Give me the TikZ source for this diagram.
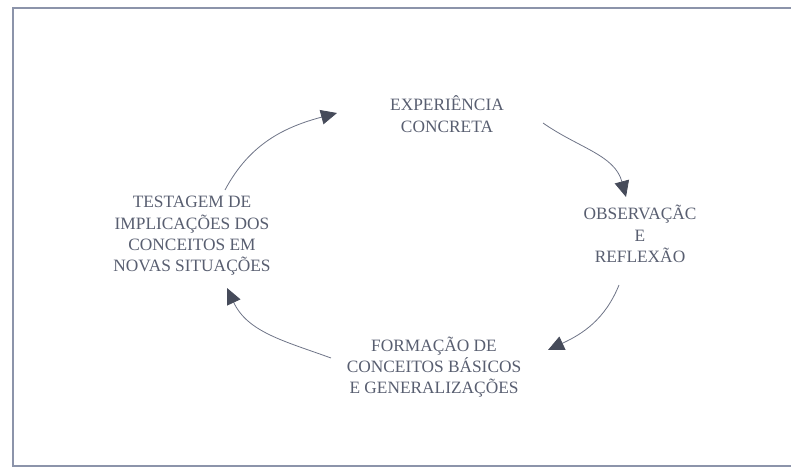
\documentclass[tikz,border=0pt]{standalone}
\usepackage{fontspec}
\setmainfont{Liberation Serif}
\usetikzlibrary{arrows.meta}

\definecolor{inkgray}{RGB}{88,94,112}
\definecolor{linegray}{RGB}{110,116,135}
\definecolor{framegray}{RGB}{140,148,170}

\tikzset{
  stage/.style={align=center, text=inkgray, font=\fontsize{13}{16}\selectfont, inner sep=0pt},
  flow/.style={draw=linegray, line width=0.6pt, arrows={-{Triangle[length=12pt,width=11pt,fill=inkgray!80!black,color=inkgray!80!black]}}}
}

\begin{document}
\begin{tikzpicture}[x=0.75pt,y=0.75pt]
  \useasboundingbox (0,0) rectangle (791,468);
  % frame
  \draw[framegray, line width=1.5pt] (791,460) -- (13,460) -- (13,2) -- (791,2);

  % the four stages
  \node[stage] (experiencia) at (447,354) {EXPERIÊNCIA\\CONCRETA};
  \node[stage] (observacao) at (640,234) {OBSERVAÇÃC\\E\\REFLEXÃO};
  \node[stage] (formacao) at (434,101) {FORMAÇÃO DE\\CONCEITOS BÁSICOS\\E GENERALIZAÇÕES};
  \node[stage] (testagem) at (192,232) {TESTAGEM DE\\IMPLICAÇÕES DOS\\CONCEITOS EM\\NOVAS SITUAÇÕES};

  % cycle
  \draw[flow] ([shift={(33,46)}]testagem.center) to[out=62,in=195] ([shift={(-110,1)}]experiencia.center);
  \draw[flow] ([shift={(96,-9)}]experiencia.center) to[out=-35,in=105] ([shift={(-14,37)}]observacao.center);
  \draw[flow] ([shift={(-21,-51)}]observacao.center) to[out=-112,in=25] ([shift={(114,17)}]formacao.center);
  \draw[flow] ([shift={(-103,9)}]formacao.center) to[out=160,in=-65] ([shift={(35,-52)}]testagem.center);
\end{tikzpicture}
\end{document}
